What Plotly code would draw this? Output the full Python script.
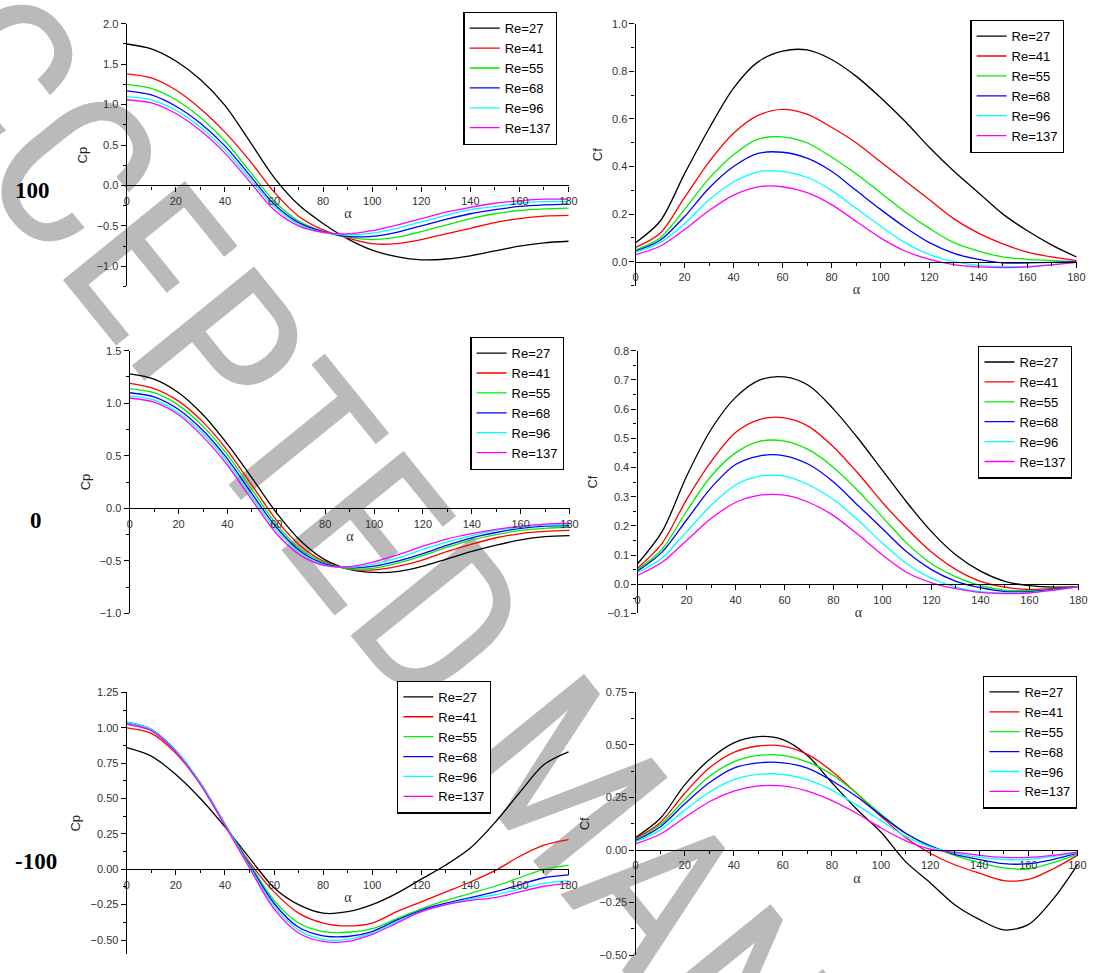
import plotly.graph_objects as go

W, H = 1099, 973

alpha = [0, 10, 20, 30, 40, 50, 60, 70, 80, 90, 100, 110, 120, 130, 140, 150, 160, 170, 180]
re_labels = ["Re=27", "Re=41", "Re=55", "Re=68", "Re=96", "Re=137"]
colors = ["#000000", "#ff0000", "#00ee00", "#0000ff", "#00ffff", "#ff00ff"]
row_labels = ["100", "0", "-100"]

# Row "100" : pressure coefficient
cp_100 = [
    [1.75, 1.69, 1.54, 1.31, 0.99, 0.55, 0.10, -0.24, -0.47, -0.66, -0.80, -0.88, -0.92, -0.91, -0.87, -0.81, -0.75, -0.71, -0.69],
    [1.38, 1.33, 1.18, 0.95, 0.66, 0.31, -0.08, -0.38, -0.55, -0.65, -0.72, -0.72, -0.67, -0.60, -0.53, -0.46, -0.41, -0.38, -0.37],
    [1.25, 1.20, 1.06, 0.84, 0.55, 0.18, -0.19, -0.44, -0.57, -0.64, -0.67, -0.64, -0.57, -0.49, -0.41, -0.35, -0.31, -0.29, -0.28],
    [1.17, 1.12, 0.98, 0.77, 0.49, 0.13, -0.23, -0.46, -0.57, -0.63, -0.63, -0.58, -0.50, -0.42, -0.35, -0.30, -0.26, -0.24, -0.23],
    [1.10, 1.06, 0.93, 0.72, 0.44, 0.09, -0.26, -0.48, -0.58, -0.61, -0.59, -0.53, -0.45, -0.37, -0.30, -0.26, -0.22, -0.20, -0.20],
    [1.06, 1.02, 0.89, 0.68, 0.40, 0.05, -0.30, -0.50, -0.58, -0.60, -0.56, -0.49, -0.41, -0.33, -0.27, -0.22, -0.19, -0.17, -0.17],
]
# Row "100" : friction coefficient
cf_100 = [
    [0.08, 0.17, 0.37, 0.56, 0.73, 0.84, 0.885, 0.89, 0.85, 0.78, 0.69, 0.59, 0.48, 0.38, 0.29, 0.20, 0.13, 0.07, 0.02],
    [0.06, 0.12, 0.27, 0.42, 0.54, 0.615, 0.64, 0.62, 0.565, 0.50, 0.42, 0.34, 0.26, 0.18, 0.12, 0.075, 0.04, 0.02, 0.005],
    [0.05, 0.10, 0.22, 0.35, 0.45, 0.515, 0.525, 0.50, 0.44, 0.37, 0.29, 0.21, 0.14, 0.08, 0.045, 0.02, 0.01, 0.005, 0.0],
    [0.045, 0.09, 0.19, 0.31, 0.40, 0.455, 0.46, 0.435, 0.38, 0.30, 0.22, 0.145, 0.08, 0.035, 0.01, -0.005, -0.005, -0.003, 0.0],
    [0.04, 0.08, 0.16, 0.26, 0.335, 0.378, 0.38, 0.355, 0.30, 0.225, 0.15, 0.08, 0.03, 0.0, -0.015, -0.02, -0.02, -0.012, -0.003],
    [0.03, 0.065, 0.135, 0.215, 0.28, 0.315, 0.315, 0.29, 0.24, 0.17, 0.10, 0.045, 0.01, -0.012, -0.022, -0.025, -0.022, -0.013, -0.003],
]
# Row "0" : pressure coefficient
cp_0 = [
    [1.28, 1.23, 1.10, 0.89, 0.61, 0.29, -0.04, -0.31, -0.49, -0.58, -0.61, -0.60, -0.55, -0.48, -0.41, -0.35, -0.30, -0.27, -0.26],
    [1.19, 1.14, 1.02, 0.82, 0.55, 0.22, -0.11, -0.36, -0.51, -0.58, -0.585, -0.55, -0.49, -0.41, -0.34, -0.28, -0.24, -0.22, -0.21],
    [1.14, 1.10, 0.98, 0.78, 0.51, 0.18, -0.15, -0.39, -0.52, -0.575, -0.57, -0.52, -0.45, -0.37, -0.30, -0.25, -0.21, -0.19, -0.18],
    [1.10, 1.06, 0.94, 0.74, 0.47, 0.14, -0.18, -0.41, -0.53, -0.565, -0.55, -0.50, -0.43, -0.35, -0.28, -0.23, -0.19, -0.17, -0.165],
    [1.07, 1.03, 0.91, 0.71, 0.44, 0.11, -0.21, -0.43, -0.54, -0.56, -0.53, -0.47, -0.39, -0.32, -0.26, -0.21, -0.18, -0.16, -0.155],
    [1.05, 1.01, 0.89, 0.68, 0.41, 0.08, -0.24, -0.45, -0.545, -0.555, -0.51, -0.44, -0.36, -0.29, -0.24, -0.20, -0.17, -0.15, -0.14],
]
# Row "0" : friction coefficient
cf_0 = [
    [0.07, 0.18, 0.37, 0.53, 0.64, 0.70, 0.71, 0.68, 0.60, 0.50, 0.39, 0.28, 0.18, 0.10, 0.045, 0.01, -0.005, -0.01, -0.008],
    [0.055, 0.14, 0.29, 0.42, 0.52, 0.565, 0.57, 0.54, 0.47, 0.38, 0.28, 0.19, 0.11, 0.05, 0.01, -0.01, -0.018, -0.015, -0.008],
    [0.05, 0.12, 0.25, 0.37, 0.45, 0.49, 0.49, 0.46, 0.40, 0.32, 0.23, 0.14, 0.07, 0.025, -0.005, -0.02, -0.022, -0.018, -0.008],
    [0.045, 0.11, 0.22, 0.33, 0.41, 0.44, 0.44, 0.41, 0.35, 0.27, 0.19, 0.11, 0.05, 0.01, -0.012, -0.025, -0.025, -0.018, -0.008],
    [0.04, 0.09, 0.18, 0.27, 0.34, 0.37, 0.37, 0.34, 0.29, 0.22, 0.14, 0.07, 0.02, -0.01, -0.025, -0.03, -0.028, -0.02, -0.008],
    [0.03, 0.075, 0.15, 0.225, 0.28, 0.305, 0.305, 0.28, 0.235, 0.17, 0.10, 0.04, 0.005, -0.015, -0.028, -0.032, -0.03, -0.02, -0.008],
]
# Row "-100" : pressure coefficient
cp_m100 = [
    [0.86, 0.80, 0.67, 0.50, 0.30, 0.08, -0.13, -0.25, -0.31, -0.30, -0.25, -0.17, -0.07, 0.03, 0.15, 0.33, 0.54, 0.74, 0.83],
    [1.00, 0.96, 0.82, 0.60, 0.31, 0.05, -0.16, -0.31, -0.38, -0.40, -0.38, -0.30, -0.23, -0.16, -0.09, -0.01, 0.09, 0.17, 0.21],
    [1.03, 0.98, 0.83, 0.60, 0.32, 0.04, -0.22, -0.38, -0.44, -0.445, -0.42, -0.35, -0.28, -0.22, -0.17, -0.12, -0.06, 0.0, 0.03],
    [1.04, 0.99, 0.84, 0.61, 0.32, 0.03, -0.24, -0.41, -0.47, -0.475, -0.44, -0.36, -0.29, -0.24, -0.20, -0.16, -0.11, -0.06, -0.04],
    [1.04, 0.99, 0.84, 0.61, 0.32, 0.02, -0.26, -0.43, -0.495, -0.495, -0.45, -0.37, -0.30, -0.25, -0.21, -0.18, -0.14, -0.10, -0.08],
    [1.025, 0.98, 0.83, 0.60, 0.31, 0.01, -0.28, -0.45, -0.51, -0.51, -0.46, -0.38, -0.30, -0.25, -0.22, -0.20, -0.16, -0.12, -0.10],
]
# Row "-100" : friction coefficient
cf_m100 = [
    [0.06, 0.15, 0.31, 0.43, 0.51, 0.54, 0.525, 0.45, 0.32, 0.195, 0.085, -0.055, -0.155, -0.26, -0.33, -0.38, -0.355, -0.235, -0.07],
    [0.055, 0.13, 0.27, 0.39, 0.465, 0.495, 0.495, 0.455, 0.375, 0.27, 0.16, 0.06, -0.015, -0.07, -0.11, -0.145, -0.14, -0.09, -0.025],
    [0.05, 0.12, 0.24, 0.35, 0.42, 0.45, 0.45, 0.42, 0.36, 0.27, 0.17, 0.08, 0.02, -0.025, -0.06, -0.085, -0.09, -0.06, -0.02],
    [0.045, 0.11, 0.22, 0.32, 0.39, 0.415, 0.415, 0.39, 0.33, 0.255, 0.165, 0.08, 0.02, -0.02, -0.045, -0.065, -0.065, -0.045, -0.015],
    [0.04, 0.095, 0.19, 0.275, 0.335, 0.36, 0.36, 0.335, 0.285, 0.215, 0.14, 0.065, 0.015, -0.015, -0.035, -0.045, -0.045, -0.03, -0.012],
    [0.03, 0.075, 0.155, 0.23, 0.28, 0.305, 0.305, 0.28, 0.235, 0.175, 0.105, 0.045, 0.005, -0.01, -0.025, -0.035, -0.035, -0.025, -0.01],
]

# layout of each panel (pixel boxes of plot areas, legend top-right corner)
panels = [
    dict(data=cp_100, ytitle="Cp", yr=(-1.25, 2.0), dtick=0.5, minor=0.25, fmt=".1f", px=(125, 572), py=(18, 284), leg=(560, 6)),
    dict(data=cf_100, ytitle="Cf", yr=(-0.1, 1.0), dtick=0.2, minor=0.1, fmt=".1f", px=(639, 1085), py=(18, 283), leg=(1072, 14)),
    dict(data=cp_0, ytitle="Cp", yr=(-1.0, 1.5), dtick=0.5, minor=0.25, fmt=".1f", px=(128, 573), py=(349, 615), leg=(567, 335)),
    dict(data=cf_0, ytitle="Cf", yr=(-0.1, 0.8), dtick=0.1, minor=0.05, fmt=".1f", px=(641, 1087), py=(349, 615), leg=(1080, 344)),
    dict(data=cp_m100, ytitle="Cp", yr=(-0.6, 1.25), dtick=0.25, minor=0.125, fmt=".2f", px=(125, 572), py=(695, 960), leg=(493, 683)),
    dict(data=cf_m100, ytitle="Cf", yr=(-0.5, 0.75), dtick=0.25, minor=0.125, fmt=".2f", px=(639, 1086), py=(695, 961), leg=(1085, 678)),
]

fig = go.Figure()
layout = dict(
    width=W, height=H, margin=dict(l=0, r=0, t=0, b=0),
    paper_bgcolor="white", plot_bgcolor="rgba(0,0,0,0)",
    font=dict(family="Arial, Liberation Sans, sans-serif", color="#222222", size=11),
    showlegend=True,
)
annotations = []
axis_font = dict(family="Arial, Liberation Sans, sans-serif", size=11, color="#333333")

for i, p in enumerate(panels, start=1):
    sfx = "" if i == 1 else str(i)
    xd = [p["px"][0] / W, p["px"][1] / W]
    yd = [1 - p["py"][1] / H, 1 - p["py"][0] / H]
    y0, y1 = p["yr"]
    zero_pos = yd[0] + (0 - y0) / (y1 - y0) * (yd[1] - yd[0])
    legname = "legend" + sfx
    for k in range(6):
        fig.add_trace(go.Scatter(
            x=alpha, y=p["data"][k], mode="lines", name=re_labels[k],
            line=dict(color=colors[k], width=1.3, shape="spline", smoothing=0.9),
            xaxis="x" + sfx, yaxis="y" + sfx, legend=legname,
        ))
    layout["xaxis" + sfx] = dict(
        domain=xd, range=[0, 180.3], anchor="free", position=zero_pos,
        showline=True, linecolor="black", linewidth=1.3, showgrid=False, zeroline=False,
        ticks="outside", ticklen=5, tickwidth=1.1, tickcolor="black",
        tick0=0, dtick=20, tickfont=axis_font,
        minor=dict(ticks="outside", ticklen=3, dtick=10, tickcolor="black", tickwidth=1),
        title=dict(text="α", font=dict(family="Liberation Serif, Times New Roman, serif", size=14, color="#333333"), standoff=2),
    )
    layout["yaxis" + sfx] = dict(
        domain=yd, range=[y0 - 1e-6, y1 + 1e-6], anchor="x" + sfx,
        showline=True, linecolor="black", linewidth=1.3, showgrid=False, zeroline=False,
        ticks="outside", ticklen=5, tickwidth=1.1, tickcolor="black",
        tick0=0, dtick=p["dtick"], tickformat=p["fmt"], tickfont=axis_font,
        minor=dict(ticks="outside", ticklen=3, dtick=p["minor"], tickcolor="black", tickwidth=1),
        title=dict(text=p["ytitle"], font=dict(size=13, color="#222222"), standoff=6),
    )
    layout[legname] = dict(
        x=p["leg"][0] / W, y=1 - p["leg"][1] / H, xanchor="right", yanchor="top",
        bgcolor="white", bordercolor="black", borderwidth=1.3,
        font=dict(family="Arial, Liberation Sans, sans-serif", size=13, color="black"),
        itemwidth=30, tracegroupgap=0,
    )

row_pos = [(30, 187), (33, 521), (33, 866)]
for lab, (rx, ry) in zip(row_labels, row_pos):
    annotations.append(dict(
        text="<b>%s</b>" % lab, x=rx / W, y=1 - ry / H, xref="paper", yref="paper",
        showarrow=False, xanchor="center", yanchor="middle",
        font=dict(family="Liberation Serif, Times New Roman, serif", size=23, color="black"),
    ))

# watermark
wx, wy = 587, 782
layout["shapes"] = [dict(
    type="rect", xref="paper", yref="paper",
    x0=(wx - 2) / W, x1=(wx + 2) / W, y0=1 - (wy + 2) / H, y1=1 - (wy - 2) / H,
    line=dict(width=0), fillcolor="rgba(0,0,0,0)", layer="below",
    label=dict(text="ACCEPTED MANUSCRIPT", textangle=51, textposition="middle center",
               font=dict(family="Liberation Sans Narrow, Arial Narrow, Roboto Condensed, Roboto, sans-serif",
                         size=221, color="#bababa")),
)]
layout["annotations"] = annotations
fig.update_layout(**layout)
fig.write_html("out.html")
